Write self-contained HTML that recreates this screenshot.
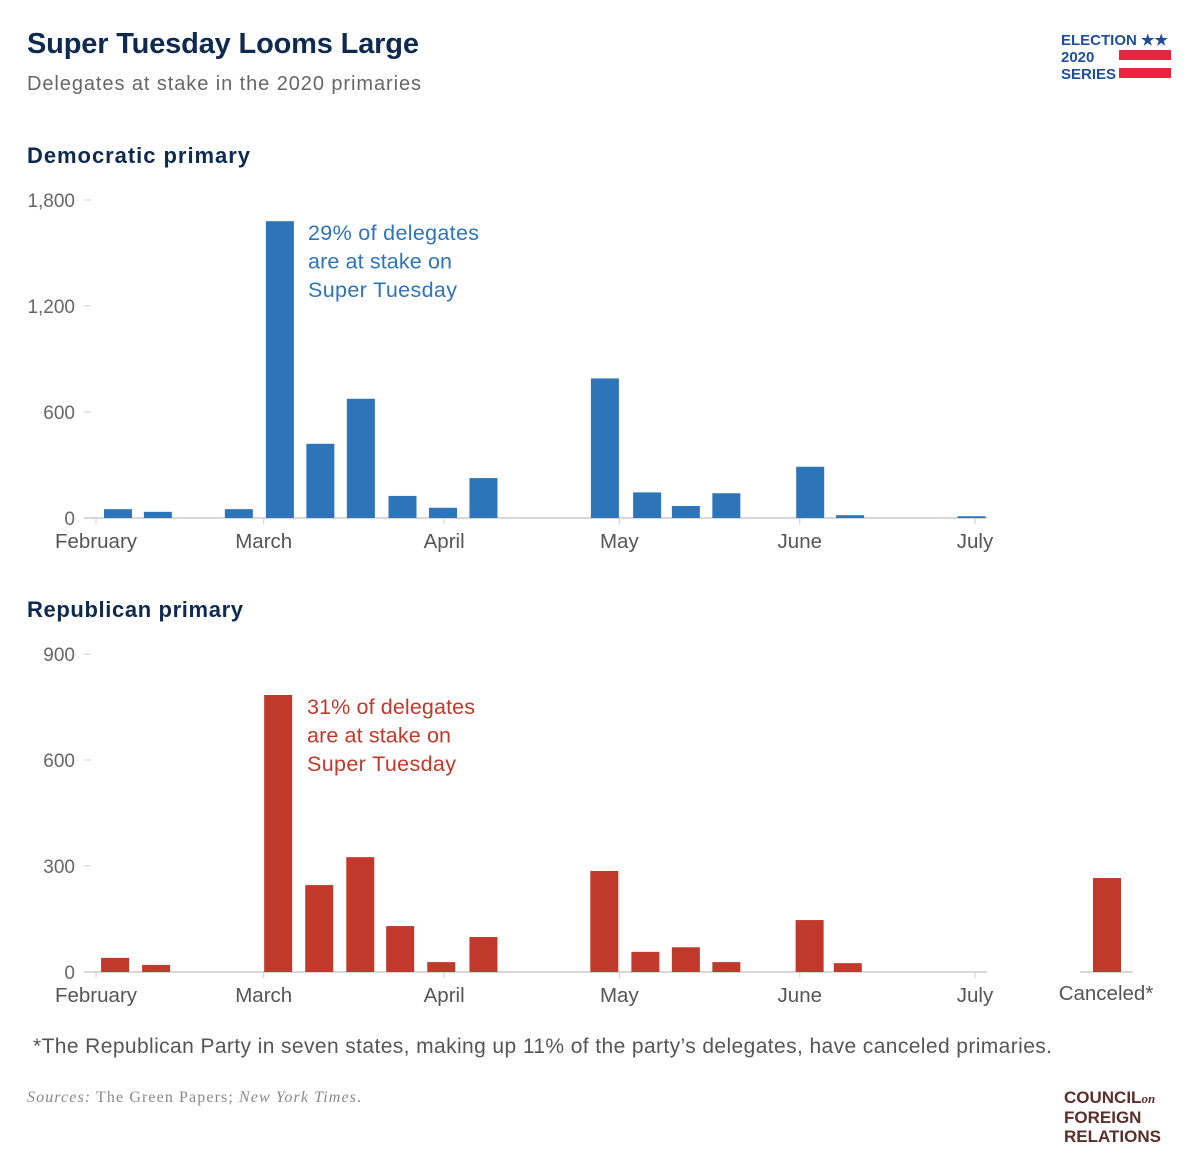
<!DOCTYPE html>
<html><head><meta charset="utf-8"><style>
body{margin:0;background:#fff;}
svg{display:block;font-family:"Liberation Sans",sans-serif;}
</style></head><body>
<svg id="c" width="1200" height="1168" viewBox="0 0 1200 1168">
<text x="27" y="53" font-size="29" font-weight="bold" fill="#0e2a4f" textLength="392">Super Tuesday Looms Large</text>
<text x="27" y="90" font-size="20" fill="#666" textLength="394">Delegates at stake in the 2020 primaries</text>
<g>
<text x="1061" y="45" font-size="15" font-weight="bold" fill="#1f4f9a">ELECTION ★★</text>
<text x="1061" y="62" font-size="15" font-weight="bold" fill="#1f4f9a">2020</text>
<text x="1061" y="79" font-size="15" font-weight="bold" fill="#1f4f9a">SERIES</text>
<rect x="1119" y="50" width="52" height="10" fill="#e8243f"/>
<rect x="1119" y="68" width="52" height="10" fill="#e8243f"/>
</g>
<text x="27" y="163" font-size="22" font-weight="bold" fill="#0e2a4f" textLength="223">Democratic primary</text>
<text x="27" y="617" font-size="22" font-weight="bold" fill="#0e2a4f" textLength="216">Republican primary</text>
<g id="dem"></g>
<g id="rep"></g>
<text x="308" y="240" font-size="21.5" fill="#2e74b8"><tspan x="308" textLength="171">29% of delegates</tspan><tspan x="308" dy="28.5" textLength="144">are at stake on</tspan><tspan x="308" dy="28.5" textLength="149">Super Tuesday</tspan></text>
<text x="307" y="714" font-size="21.5" fill="#c0392b"><tspan x="307" textLength="168">31% of delegates</tspan><tspan x="307" dy="28.5" textLength="144">are at stake on</tspan><tspan x="307" dy="28.5" textLength="149">Super Tuesday</tspan></text>
<text x="33" y="1053" font-size="21" fill="#555" textLength="1019">*The Republican Party in seven states, making up 11% of the party’s delegates, have canceled primaries.</text>
<text x="27" y="1102" font-size="16" fill="#888" font-family="Liberation Serif, serif" textLength="334"><tspan font-style="italic">Sources:</tspan> The Green Papers; <tspan font-style="italic">New York Times</tspan>.</text>
<g fill="#5a2e2a" font-weight="bold" font-size="17">
<text x="1064" y="1103">COUNCIL<tspan font-family="Liberation Serif, serif" font-style="italic" font-size="13">on</tspan></text>
<text x="1064" y="1123">FOREIGN</text>
<text x="1064" y="1142">RELATIONS</text>
</g>
</svg>
<script>
const monthLabels=["February","March","April","May","June","July"];
const monthDays=[0,29,60.2,90.5,121.7,152];
const demDays=[3.8,10.7,24.7,31.8,38.8,45.8,53,60,67,88,95.3,102,109,123.5,130.4,151.4];
const demValues=[50,35,50,1680,420,675,125,58,226,790,145,68,140,290,16,10];
const demTicks=[0,600,1200,1800];
const repDays=[3.3,10.4,31.5,38.6,45.7,52.6,59.7,67,87.9,95,102,109,123.4,130];
const repValues=[40,20,784,246,325,130,28,99,286,57,70,28,147,25];
const repCanceled=[266];
const repTicks=[0,300,600,900];
const NS="http://www.w3.org/2000/svg";
const xDay=d=>96+d*5.783;
function mk(tag,attrs,parent){const e=document.createElementNS(NS,tag);for(const k in attrs)e.setAttribute(k,attrs[k]);parent.appendChild(e);return e;}
function chart(g,days,vals,ticks,y0,ymax,color,name){
  const y=v=>y0-v/ymax*318;
  ticks.forEach(t=>{
    const tx=mk('text',{x:75,y:y(t)+7,'font-size':19,fill:'#666','text-anchor':'end'},g);
    tx.textContent=t.toLocaleString('en-US');
    
    
    mk('line',{x1:84,x2:91,y1:y(t),y2:y(t),stroke:'#ccc'},g);
  });
  const ax=mk('line',{x1:84,x2:987,y1:y0,y2:y0,stroke:'#ccc','stroke-width':1.5},g);
  
  
  monthLabels.forEach((m,i)=>{
    const x=xDay(monthDays[i]);
    mk('line',{x1:x,x2:x,y1:y0,y2:y0+6,stroke:'#ccc'},g);
    const t=mk('text',{x:x,y:y0+30,'font-size':20.5,fill:'#555','text-anchor':'middle'},g);
    t.textContent=m;
    
    
  });
  days.forEach((d,i)=>{
    const r=mk('rect',{x:xDay(d)-14,y:y(vals[i]),width:28,height:y0-y(vals[i]),fill:color},g);
    
    
  });
  return y;
}
chart(document.getElementById('dem'),demDays,demValues,demTicks,518,1800,'#2e74b8','dem');
const rg=document.getElementById('rep');
const ry=chart(rg,repDays,repValues,repTicks,972,900,'#c0392b','rep');
mk('line',{x1:1080,x2:1133,y1:972,y2:972,stroke:'#ccc','stroke-width':1.5},rg);
const cb=mk('rect',{x:1093,y:ry(repCanceled[0]),width:28,height:972-ry(repCanceled[0]),fill:'#c0392b'},rg);


const cl=mk('text',{x:1106,y:1000,'font-size':20.5,fill:'#555','text-anchor':'middle'},rg);
cl.textContent='Canceled*';


</script>
</body></html>
